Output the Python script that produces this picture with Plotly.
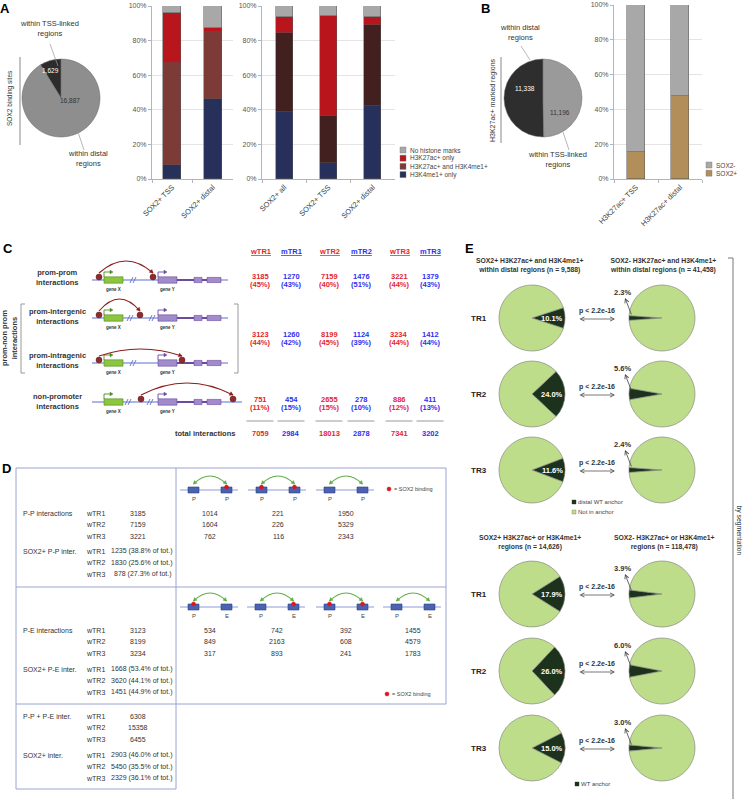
import math
import plotly.graph_objects as go

W, H = 744, 799
FONT = "Liberation Sans, Arial, Helvetica, sans-serif"

# ---------------- data ----------------
a_pie_labels = ["within TSS-linked regions", "within distal regions"]
a_pie_values = [1629, 16887]
b_pie_labels = ["within distal regions", "within TSS-linked regions"]
b_pie_values = [11338, 11196]

mark_names = ["H3K4me1+ only", "H3K27ac+ and H3K4me1+", "H3K27ac+ only", "No histone marks"]
a1_categories = ["SOX2+ TSS", "SOX2+ distal"]
a1_h3k4me1_only = [8.0, 46.5]
a1_both = [59.0, 38.5]
a1_h3k27ac_only = [29.0, 2.5]
a1_none = [4.0, 12.5]

a2_categories = ["SOX2+ all", "SOX2+ TSS", "SOX2+ distal"]
a2_h3k4me1_only = [39.0, 9.0, 42.0]
a2_both = [45.5, 27.5, 47.0]
a2_h3k27ac_only = [9.0, 57.5, 4.5]
a2_none = [6.5, 6.0, 6.5]

b_categories = ["H3K27ac+ TSS", "H3K27ac+ distal"]
b_names = ["SOX2+", "SOX2-"]
b_sox2_pos = [15.5, 47.5]
b_sox2_neg = [84.5, 52.5]
pct_ticks = [0, 20, 40, 60, 80, 100]

c_columns = ["wTR1", "mTR1", "wTR2", "mTR2", "wTR3", "mTR3"]
c_prom_prom = [3185, 1270, 7159, 1476, 3221, 1379]
c_prom_prom_pct = [45, 43, 40, 51, 44, 43]
c_prom_nonprom = [3123, 1260, 8199, 1124, 3234, 1412]
c_prom_nonprom_pct = [44, 42, 45, 39, 44, 44]
c_nonprom = [751, 454, 2655, 278, 886, 411]
c_nonprom_pct = [11, 15, 15, 10, 12, 13]
c_total = [7059, 2984, 18013, 2878, 7341, 3202]

d_reps = ["wTR1", "wTR2", "wTR3"]
d_pp_total = [3185, 7159, 3221]
d_pp_patterns = [[1014, 1604, 762], [221, 226, 116], [1950, 5329, 2343]]
d_pp_sox2 = [1235, 1830, 878]
d_pp_sox2_pct = [38.8, 25.6, 27.3]
d_pe_total = [3123, 8199, 3234]
d_pe_patterns = [[534, 849, 317], [742, 2163, 893], [392, 608, 241], [1455, 4579, 1783]]
d_pe_sox2 = [1668, 3620, 1451]
d_pe_sox2_pct = [53.4, 44.1, 44.9]
d_ppe_total = [6308, 15358, 6455]
d_ppe_sox2 = [2903, 5450, 2329]
d_ppe_sox2_pct = [46.0, 35.5, 36.1]

e_reps = ["TR1", "TR2", "TR3"]
e_top_sox2_pos = [10.1, 24.0, 11.6]
e_top_sox2_neg = [2.3, 5.6, 2.4]
e_bot_sox2_pos = [17.9, 26.0, 15.0]
e_bot_sox2_neg = [3.9, 6.0, 3.0]

# ---------------- colours ----------------
NAVY = "#26305a"
BROWN = "#7d3b38"
DBROWN = "#42201f"
RED = "#b8151d"
GRAY = "#a8a8a8"
TAN = "#b28f5a"
WRED = "#e3262d"
MBLUE = "#2f2ff0"
LGREEN = "#bddd8a"
DGREEN = "#1d321d"
FRAME = "#9aa4d2"

fig = go.Figure()
shapes = []
ann = []


def T(x, y, text, size=7, color="#333", bold=False, xanchor="center", yanchor="middle", angle=0):
    if bold:
        text = f"<b>{text}</b>"
    ann.append(dict(x=x, y=y, xref="x4", yref="y4", text=text, showarrow=False,
                    font=dict(family=FONT, size=size, color=color),
                    xanchor=xanchor, yanchor=yanchor, textangle=angle, borderpad=0))


def L(x0, y0, x1, y1, color="#888", w=1):
    shapes.append(dict(type="line", xref="x4", yref="y4", x0=x0, y0=y0, x1=x1, y1=y1,
                       line=dict(color=color, width=w)))


def R(x0, y0, x1, y1, fill, line="#666", w=0.6):
    shapes.append(dict(type="rect", xref="x4", yref="y4", x0=x0, y0=y0, x1=x1, y1=y1,
                       fillcolor=fill, line=dict(color=line, width=w)))


def C(cx, cy, r, fill, line=None, w=0.5):
    shapes.append(dict(type="circle", xref="x4", yref="y4", x0=cx - r, y0=cy - r, x1=cx + r, y1=cy + r,
                       fillcolor=fill, line=dict(color=line or fill, width=w)))


def P(path, color, w=1, fill=None):
    shapes.append(dict(type="path", xref="x4", yref="y4", path=path,
                       line=dict(color=color, width=w), fillcolor=fill or "rgba(0,0,0,0)"))


def head(xe, ye, dx, dy, color, size=3.2):
    n = math.hypot(dx, dy)
    ux, uy = dx / n, dy / n
    px_, py_ = -uy, ux
    bx, by = xe - ux * size, ye - uy * size
    P(f"M{xe:.2f},{ye:.2f} L{bx + px_ * size * 0.6:.2f},{by + py_ * size * 0.6:.2f} "
      f"L{bx - px_ * size * 0.6:.2f},{by - py_ * size * 0.6:.2f} Z", color, 0.5, color)


def arc(x1, x2, yend, peak, color, w=1.1, heads=(True, True), size=3.2):
    cy = 2 * peak - yend
    cx = (x1 + x2) / 2
    P(f"M{x1},{yend} Q{cx},{cy} {x2},{yend}", color, w)
    if heads[0]:
        head(x1, yend, x1 - cx, yend - cy, color, size)
    if heads[1]:
        head(x2, yend, x2 - cx, yend - cy, color, size)


def ARROW(x, y, ax, ay, color="#555", w=0.8, side="end", hd=5, size=1.0):
    ann.append(dict(x=x, y=y, ax=ax, ay=ay, xref="x4", yref="y4", axref="x4", ayref="y4",
                    text="", showarrow=True, arrowhead=hd, startarrowhead=hd, arrowsize=size,
                    startarrowsize=size, arrowwidth=w, arrowcolor=color, arrowside=side,
                    standoff=0, startstandoff=0))


def xd(x0, x1):
    return [x0 / W, x1 / W]


def yd(y0, y1):
    return [1 - y1 / H, 1 - y0 / H]


def pie_dom(cx, cy, r):
    return dict(x=[(cx - r) / W, (cx + r) / W], y=[1 - (cy + r) / H, 1 - (cy - r) / H])


# overlay axis for annotations/shapes in pixel units
fig.add_trace(go.Scatter(x=[0], y=[0], xaxis="x4", yaxis="y4", mode="markers",
                         marker=dict(opacity=0), hoverinfo="skip", showlegend=False))

# ---------------- Panel A / B bars ----------------
def bars(xa, ya, cats, series, colors, names, width):
    for vals, col, nm in zip(series, colors, names):
        fig.add_trace(go.Bar(x=cats, y=vals, name=nm, width=width, xaxis=xa, yaxis=ya,
                             marker=dict(color=col, line=dict(color="#555", width=0.5)),
                             showlegend=False, hoverinfo="skip"))


bars("x", "y", a1_categories, [a1_h3k4me1_only, a1_both, a1_h3k27ac_only, a1_none],
     [NAVY, BROWN, RED, GRAY], mark_names, 0.44)
bars("x2", "y2", a2_categories, [a2_h3k4me1_only, a2_both, a2_h3k27ac_only, a2_none],
     [NAVY, DBROWN, RED, GRAY], mark_names, 0.39)
bars("x3", "y3", b_categories, [b_sox2_pos, b_sox2_neg], [TAN, GRAY], b_names, 0.39)

ycommon = dict(range=[0, 100], tickvals=pct_ticks, ticktext=[f"{v}%" for v in pct_ticks],
               tickfont=dict(family=FONT, size=7, color="#555"), showgrid=True,
               gridcolor="#e4e4e4", gridwidth=0.8, showline=True, linecolor="#b5b5b5",
               linewidth=1, ticks="outside", ticklen=3, tickcolor="#b5b5b5", zeroline=False,
               fixedrange=True, automargin=False)
xcommon = dict(tickangle=-45, tickfont=dict(family=FONT, size=7.5, color="#444"), showline=True,
               linecolor="#b5b5b5", ticks="outside", tickson="boundaries", ticklen=3,
               tickcolor="#b5b5b5", fixedrange=True, showgrid=False, automargin=False)

# ---------------- Pies A and B ----------------
def small_pie(values, labels, colors, cx, cy, r):
    rot = -360.0 * values[0] / sum(values)
    fig.add_trace(go.Pie(values=values, labels=labels, sort=False, direction="clockwise",
                         rotation=rot, marker=dict(colors=colors, line=dict(color="#666", width=0.5)),
                         textinfo="none", hoverinfo="skip", showlegend=False,
                         domain=pie_dom(cx, cy, r)))


small_pie(a_pie_values, a_pie_labels, ["#2c2c2c", "#8e8e8e"], 61, 98, 39)
small_pie(b_pie_values, b_pie_labels, ["#2e2e2e", "#9a9a9a"], 543, 98, 39)

T(5, 8, "A", 13, "#000", True)
T(485, 8, "B", 13, "#000", True)
T(49, 28, "within TSS-linked<br>regions", 7.5, "#333")
L(50, 44, 58, 66, "#999", 0.7)
T(88, 158, "within distal<br>regions", 7.5, "#333")
L(78, 132, 84, 150, "#999", 0.7)
T(50, 70, f"{a_pie_values[0]:,}", 6.5, "#fff")
T(70, 100, f"{a_pie_values[1]:,}", 6.5, "#333")
L(20, 57, 20, 145, "#888", 1)
T(10, 98, "SOX2 binding sites", 6.5, "#333", angle=-90)

T(520, 32, "within distal<br>regions", 7.5, "#333")
L(521, 46, 530, 60, "#999", 0.7)
T(557, 159, "within TSS-linked<br>regions", 7.5, "#333")
L(563, 132, 569, 150, "#999", 0.7)
T(525, 88, f"{b_pie_values[0]:,}", 6.5, "#fff")
T(560, 112, f"{b_pie_values[1]:,}", 6.5, "#333")
L(501, 57, 501, 143, "#888", 1)
T(493, 100, "H3K27ac+ marked regions", 7, "#333", angle=-90)

# legends
for i, (nm, col) in enumerate(zip(mark_names[::-1], [GRAY, RED, BROWN, NAVY])):
    yy = 150 + i * 8.2
    R(400, yy - 3, 406, yy + 3, col, "#777", 0.4)
    T(409, yy, nm, 6.5, "#444", xanchor="left")
for i, (nm, col) in enumerate(zip(b_names[::-1], [GRAY, TAN])):
    yy = 165 + i * 8.2
    R(706, yy - 3, 712, yy + 3, col, "#777", 0.4)
    T(715, yy, nm, 6.5, "#444", xanchor="left")

# ---------------- Panel C ----------------
T(8, 248, "C", 13, "#000", True)
col_x = [260, 291, 329, 361, 399, 430]
for i, (cname, x) in enumerate(zip(c_columns, col_x)):
    col = WRED if cname.startswith("w") else MBLUE
    T(x, 251, f"<u>{cname}</u>", 7.5, col, True)
    T(x, 276, str(c_prom_prom[i]), 7.5, col, True)
    T(x, 284.5, f"({c_prom_prom_pct[i]}%)", 7.5, col, True)
    T(x, 334, str(c_prom_nonprom[i]), 7.5, col, True)
    T(x, 342.5, f"({c_prom_nonprom_pct[i]}%)", 7.5, col, True)
    T(x, 399, str(c_nonprom[i]), 7.5, col, True)
    T(x, 407.5, f"({c_nonprom_pct[i]}%)", 7.5, col, True)
    L(x - 13.5, 421, x + 13.5, 421, "#999", 1)
    T(x, 433, str(c_total[i]), 7.5, col, True)
T(205, 433, "total interactions", 7.5, "#333", True)

T(57, 277, "prom-prom<br>interactions", 7.5, "#333", True)
T(57, 316, "prom-intergenic<br>interactions", 7.5, "#333", True)
T(57, 360, "prom-intragenic<br>interactions", 7.5, "#333", True)
T(57, 401, "non-promoter<br>interactions", 7.5, "#333", True)
T(9, 338, "prom-non prom<br>interactions", 7.5, "#333", True, angle=-90)
# brackets
P("M25,304 L21,304 L21,373 L25,373", "#999", 1)
P("M234,304 L238,304 L238,373 L234,373", "#999", 1)

LBLUE = "#5b6fcf"
GRN = "#8cc63f"
GRN_D = "#4f8a23"
PUR = "#a18bcb"
PUR_D = "#6a4ba0"
DOT = "#8e2b2b"
ARC = "#8e1b1b"


def slash(x, y):
    L(x - 3, y + 3, x, y - 3, LBLUE, 0.9)
    L(x, y + 3, x + 3, y - 3, LBLUE, 0.9)


def gene_row(y, dots, peak, slashes, x_end=228):
    L(92, y, x_end, y, LBLUE, 1)
    L(177, y, 221, y, PUR_D, 2.2)
    R(104, y - 3.2, 123, y + 3.2, GRN, GRN_D, 0.6)
    R(158, y - 3.2, 177, y + 3.2, PUR, PUR_D, 0.6)
    R(194, y - 2.6, 202, y + 2.6, PUR, PUR_D, 0.6)
    R(207, y - 2.6, 221, y + 2.6, PUR, PUR_D, 0.6)
    P(f"M104,{y - 3} L104,{y - 8} L110,{y - 8}", GRN_D, 0.9)
    head(113, y - 8, 1, 0, GRN_D, 3)
    P(f"M158,{y - 3} L158,{y - 8} L164,{y - 8}", PUR_D, 0.9)
    head(167, y - 8, 1, 0, PUR_D, 3)
    for s in slashes:
        slash(s, y)
    T(113.5, y + 9, "gene X", 4.5, "#333", True)
    T(167.5, y + 9, "gene Y", 4.5, "#333", True)
    for d in dots:
        C(d, y - 3, 3, DOT, "#5a1a1a", 0.5)
    arc(dots[0], dots[1], y - 7, peak, ARC, 1.1, (False, True))


gene_row(280, [99, 153], 261, [133])
gene_row(318, [99, 140], 299, [130, 152])
gene_row(363, [99, 182], 349, [133])
gene_row(402, [141, 233], 383, [128, 150], x_end=242)

# ---------------- Panel D ----------------
T(6, 468, "D", 13, "#000", True)
for (x0, y0, x1, y1) in [(16, 468, 446, 468), (16, 468, 16, 789), (176, 468, 176, 789),
                         (446, 468, 446, 704), (16, 587, 446, 587), (16, 704, 446, 704),
                         (16, 789, 176, 789)]:
    L(x0, y0, x1, y1, FRAME, 1)

BOX = "#4a62b0"
BOX_D = "#2e3f80"
DLINE = "#8c9bd8"
ARC_G = "#5fae47"
SOXRED = "#e0141c"


def pe_diagram(cx, y, kinds, reds):
    L(cx - 30, y, cx + 28, y, DLINE, 1)
    bxs = [cx - 16.5, cx + 16.5]
    for bx, k, r in zip(bxs, kinds, reds):
        R(bx - 5.5, y - 3, bx + 5.5, y + 3, BOX, BOX_D, 0.6)
        if r:
            C(bx, y - 3, 2, SOXRED, SOXRED)
        T(bx, y + 8.5, k, 6, "#444")
    arc(bxs[0], bxs[1], y - 6, y - 14, ARC_G, 1.1, (True, True), 3)


pp_x = [210, 278, 346]
pp_reds = [(0, 1), (1, 1), (0, 0)]
for cx, rd in zip(pp_x, pp_reds):
    pe_diagram(cx, 490, ("P", "P"), rd)
pe_x = [210, 277, 346, 413]
pe_reds = [(1, 0), (0, 1), (1, 1), (0, 0)]
for cx, rd in zip(pe_x, pe_reds):
    pe_diagram(cx, 607, ("P", "E"), rd)

C(389, 489, 2, SOXRED, SOXRED)
T(393, 489, "= SOX2 binding", 5.5, "#444", xanchor="left")
C(387, 694, 2, SOXRED, SOXRED)
T(391, 694, "= SOX2 binding", 5.5, "#444", xanchor="left")


def d_block(y_tot, y_sox, label1, label2, totals, sox, soxpct):
    T(22, y_tot, label1, 7, "#333", xanchor="left")
    T(22, y_sox, label2, 7, "#333", xanchor="left")
    for i, rep in enumerate(d_reps):
        yy = y_tot + i * 11.7
        T(85, yy, rep, 7, "#333", xanchor="left")
        T(138, yy, str(totals[i]), 7, "#333")
        yy2 = y_sox + i * 11.7
        T(85, yy2, rep, 7, "#333", xanchor="left")
        T(173, yy2, f"{sox[i]} ({soxpct[i]:.1f}% of tot.)", 7, "#333", xanchor="right")


d_block(513, 551, "P-P interactions", "SOX2+ P-P inter.", d_pp_total, d_pp_sox2, d_pp_sox2_pct)
d_block(630, 669, "P-E interactions", "SOX2+ P-E inter.", d_pe_total, d_pe_sox2, d_pe_sox2_pct)
d_block(716, 755, "P-P + P-E inter.", "SOX2+ inter.", d_ppe_total, d_ppe_sox2, d_ppe_sox2_pct)

for cx, vals in zip(pp_x, d_pp_patterns):
    for i, v in enumerate(vals):
        T(cx, 513 + i * 11.7, str(v), 7, "#333")
for cx, vals in zip(pe_x, d_pe_patterns):
    for i, v in enumerate(vals):
        T(cx, 630 + i * 11.7, str(v), 7, "#333")

# ---------------- Panel E ----------------
T(469, 248, "E", 13, "#000", True)
LX, RX, PR = 532, 662, 33
top_y = [318, 394, 470]
bot_y = [594, 671, 748]

T(530, 265, "SOX2+ H3K27ac+ and H3K4me1+<br>within distal regions (n = 9,588)", 6.8, "#333", True)
T(663, 265, "SOX2- H3K27ac+ and H3K4me1+<br>within distal regions (n = 41,458)", 6.8, "#333", True)
T(530, 542, "SOX2+ H3K27ac+ or H3K4me1+<br>regions (n = 14,626)", 6.8, "#333", True)
T(664, 542, "SOX2- H3K27ac+ or H3K4me1+<br>regions (n = 118,478)", 6.8, "#333", True)


def e_pie(cx, cy, p, side):
    rot = (90 if side == "right" else 270) - p * 1.8
    fig.add_trace(go.Pie(values=[p, 100 - p], labels=["anchor", "Not in anchor"], sort=False,
                         direction="clockwise", rotation=rot,
                         marker=dict(colors=[DGREEN, LGREEN], line=dict(color="#7a7a7a", width=0.6)),
                         textinfo="none", hoverinfo="skip", showlegend=False,
                         domain=pie_dom(cx, cy, PR)))


for rows, pos, neg in [(top_y, e_top_sox2_pos, e_top_sox2_neg), (bot_y, e_bot_sox2_pos, e_bot_sox2_neg)]:
    for rep, cy, p, n in zip(e_reps, rows, pos, neg):
        e_pie(LX, cy, p, "right")
        e_pie(RX, cy, n, "left")
        T(479, cy, rep, 8, "#222", True)
        T(LX + 20, cy, f"{p:.1f}%", 7.5, "#fff", True)
        T(RX - 40, cy - 26, f"{n:.1f}%", 7.5, "#333", True)
        ARROW(RX - 37, cy - 20, RX - 30, cy - 2, "#444", 0.8, "end", 5, 1.0)
        T(597, cy - 7, "p < 2.2e-16", 7, "#333", True)
        ARROW(615, cy + 1, 578, cy + 1, "#555", 0.8, "end+start", 5, 1.0)

R(572, 500, 576, 504, DGREEN, DGREEN, 0.4)
T(577, 502, "distal WT anchor", 6, "#444", xanchor="left")
R(572, 510, 576, 514, LGREEN, "#777", 0.4)
T(577, 512, "Not in anchor", 6, "#444", xanchor="left")
R(575, 782, 579, 786, DGREEN, DGREEN, 0.4)
T(580, 784, "WT anchor", 6, "#444", xanchor="left")

P("M728,258 L733,258 L733,799", "#777", 1)
T(738.5, 530, "by segmentation", 6.8, "#333", angle=90)

fig.update_layout(
    width=W, height=H, margin=dict(l=0, r=0, t=0, b=0, pad=0, autoexpand=False),
    paper_bgcolor="white", plot_bgcolor="rgba(0,0,0,0)", barmode="stack", bargap=0,
    showlegend=False, font=dict(family=FONT),
    xaxis=dict(domain=xd(152, 233), anchor="y", **xcommon),
    yaxis=dict(domain=yd(6, 179), anchor="x", **ycommon),
    xaxis2=dict(domain=xd(262, 395), anchor="y2", **xcommon),
    yaxis2=dict(domain=yd(6, 179), anchor="x2", **ycommon),
    xaxis3=dict(domain=xd(614, 702), anchor="y3", **xcommon),
    yaxis3=dict(domain=yd(5, 179), anchor="x3", **ycommon),
    xaxis4=dict(domain=[0, 1], range=[0, W], visible=False, fixedrange=True, anchor="y4",
                automargin=False),
    yaxis4=dict(domain=[0, 1], range=[H, 0], visible=False, fixedrange=True, anchor="x4",
                automargin=False),
    shapes=shapes, annotations=ann,
)

fig.write_html("out.html", config={"displayModeBar": False},
               post_script="document.body.style.margin='0px';")
